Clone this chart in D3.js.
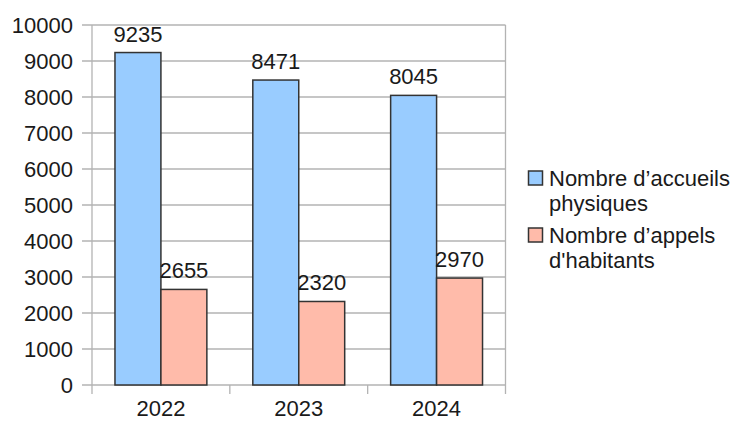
<!DOCTYPE html>
<html><head><meta charset="utf-8">
<script src="https://cdn.jsdelivr.net/npm/d3@7"></script>
<style>html,body{margin:0;padding:0;background:#fff;}svg{display:block;}</style>
</head><body>
<svg id="chart" width="741" height="421"></svg>
<script>
const categories = ["2022", "2023", "2024"];
const seriesNames = ["Nombre d’accueils physiques", "Nombre d’appels d'habitants"];
const accueils = [9235, 8471, 8045];
const appels = [2655, 2320, 2970];
const yTicks = [0, 1000, 2000, 3000, 4000, 5000, 6000, 7000, 8000, 9000, 10000];
const colors = ["#99ccff", "#ffbbaa"];
const legendLines = [["Nombre d’accueils", "physiques"], ["Nombre d’appels", "d'habitants"]];

const svg = d3.select("#chart");
const font = "'Liberation Sans', Arial, sans-serif";
const L = 92, R = 505.5, T = 25, B = 385;
const x = d3.scaleBand().domain(categories).range([L, R]).padding(0);
const y = d3.scaleLinear().domain([0, 10000]).range([B, T]);
const grid = "#b3b3b3";

// horizontal gridlines + left ticks
svg.append("g").selectAll("line").data(yTicks).join("line")
  .attr("x1", L - 10).attr("x2", R).attr("y1", d => y(d)).attr("y2", d => y(d))
  .attr("stroke", grid).attr("stroke-width", 1.3);
// vertical axis lines
[L, R].forEach(xx => svg.append("line").attr("x1", xx).attr("x2", xx).attr("y1", T).attr("y2", B + 9)
  .attr("stroke", grid).attr("stroke-width", 1.3));
// category ticks
svg.append("g").selectAll("line").data(categories.slice(1)).join("line")
  .attr("x1", d => x(d)).attr("x2", d => x(d)).attr("y1", B).attr("y2", B + 9)
  .attr("stroke", grid).attr("stroke-width", 1.3);

// y labels
svg.append("g").selectAll("text").data(yTicks).join("text")
  .attr("x", 73).attr("y", d => y(d)).attr("dy", "0.36em").attr("text-anchor", "end")
  .attr("font-family", font).attr("font-size", 22).attr("fill", "#1a1a1a").text(d => d);
// x labels
svg.append("g").selectAll("text").data(categories).join("text")
  .attr("x", d => x(d) + x.bandwidth() / 2).attr("y", 415.5).attr("text-anchor", "middle")
  .attr("font-family", font).attr("font-size", 22).attr("fill", "#1a1a1a").text(d => d);

const bw = x.bandwidth();
const barW = bw / 3;
const series = [accueils, appels];
series.forEach((vals, si) => {
  const g = svg.append("g");
  g.selectAll("rect").data(categories).join("rect")
    .attr("x", (c) => x(c) + bw / 6 + si * barW)
    .attr("y", (c, i) => y(vals[i]))
    .attr("width", barW).attr("height", (c, i) => y(0) - y(vals[i]))
    .attr("fill", colors[si]).attr("stroke", "#333").attr("stroke-width", 1.5);
  g.selectAll("text").data(categories).join("text")
    .attr("x", (c) => x(c) + bw / 6 + si * barW + barW / 2)
    .attr("y", (c, i) => y(vals[i]) - 11)
    .attr("text-anchor", "middle").attr("font-family", font).attr("font-size", 22).attr("fill", "#1a1a1a")
    .text((c, i) => vals[i]);
});

// legend
const lg = svg.append("g");
legendLines.forEach((lines, i) => {
  const top = 171 + i * 57;
  lg.append("rect").attr("x", 528.5).attr("y", top).attr("width", 14).attr("height", 14)
    .attr("fill", colors[i]).attr("stroke", "#333").attr("stroke-width", 1.5);
  lines.forEach((t, j) => {
    lg.append("text").attr("x", 549).attr("y", top + 15 + j * 24.5)
      .attr("font-family", font).attr("font-size", 22).attr("fill", "#1a1a1a").text(t);
  });
});
</script>
</body></html>
